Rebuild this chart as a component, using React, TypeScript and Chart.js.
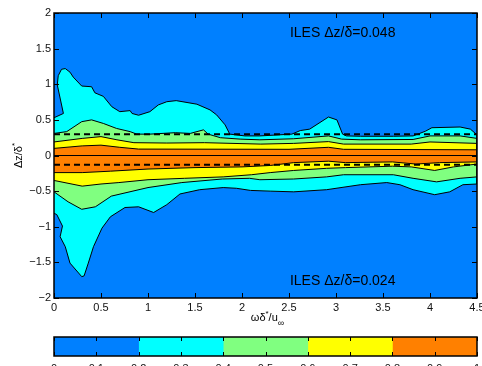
import React, { useEffect, useRef } from 'react';
import { Chart, registerables } from 'chart.js';

Chart.register(...registerables);

const FONT = '"Liberation Sans", Arial, Helvetica, sans-serif';

const BLUE = '#0080ff';
const CYAN = '#00ffff';
const GREEN = '#80ff80';
const YELLOW = '#ffff00';
const ORANGE = '#ff8000';

// axis ticks
const xTickValues = [0, 0.5, 1, 1.5, 2, 2.5, 3, 3.5, 4, 4.5];
const yTickValues = [-2, -1.5, -1, -0.5, 0, 0.5, 1, 1.5, 2];
const barTickValues = [0, 0.1, 0.2, 0.3, 0.4, 0.5, 0.6, 0.7, 0.8, 0.9, 1];

// colorbar levels
const levels = [0, 0.2, 0.4, 0.6, 0.8, 1.0];
const levelColors = [BLUE, CYAN, GREEN, YELLOW, ORANGE];

// contour 0.2 (upper / lower branches), [x, y]
const c02Upper: number[][] = [
  [0, 0.53], [0.1, 0.59], [0.035, 0.99], [0.045, 1.12], [0.08, 1.21], [0.12, 1.22], [0.17, 1.17],
  [0.205, 1.1], [0.295, 0.975], [0.4, 0.965], [0.435, 0.88], [0.525, 0.83], [0.615, 0.685],
  [0.7, 0.615], [0.81, 0.63], [0.83, 0.59], [0.9, 0.565], [1.02, 0.615], [1.11, 0.71], [1.2, 0.755],
  [1.3, 0.77], [1.52, 0.72], [1.66, 0.64], [1.73, 0.57], [1.82, 0.43], [1.87, 0.3], [2.03, 0.275],
  [2.19, 0.275], [2.53, 0.3], [2.62, 0.35], [2.72, 0.37], [2.92, 0.54], [3.01, 0.5], [3.07, 0.3],
  [3.11, 0.275], [3.26, 0.27], [3.61, 0.27], [3.82, 0.275], [3.95, 0.34], [4.02, 0.39], [4.32, 0.4],
  [4.43, 0.37], [4.5, 0.29],
];
const c02Lower: number[][] = [
  [0, -0.81], [0.03, -0.83], [0.09, -0.99], [0.065, -1.14], [0.12, -1.28], [0.17, -1.51],
  [0.295, -1.7], [0.32, -1.69], [0.365, -1.51], [0.42, -1.28], [0.51, -1.02], [0.6, -0.86],
  [0.755, -0.73], [0.9, -0.72], [1.06, -0.8], [1.2, -0.69], [1.34, -0.54], [1.55, -0.48],
  [1.8, -0.45], [1.94, -0.46], [2.09, -0.49], [2.3, -0.5], [2.55, -0.51], [2.9, -0.48],
  [3.26, -0.41], [3.54, -0.38], [3.68, -0.41], [3.82, -0.48], [4.05, -0.55], [4.21, -0.51],
  [4.35, -0.41], [4.5, -0.4],
];
// contour 0.4
const c04Upper: number[][] = [
  [0, 0.31], [0.135, 0.335], [0.295, 0.475], [0.4, 0.5], [0.525, 0.45], [0.665, 0.38], [0.81, 0.335],
  [0.88, 0.3], [1.02, 0.3], [1.29, 0.32], [1.45, 0.31], [1.59, 0.36], [1.64, 0.3], [1.77, 0.25],
  [1.98, 0.23], [2.19, 0.22], [2.55, 0.235], [2.92, 0.275], [3.06, 0.23], [3.26, 0.22], [3.82, 0.225],
  [4.0, 0.275], [4.32, 0.275], [4.5, 0.24],
];
const c04Lower: number[][] = [
  [0, -0.51], [0.15, -0.65], [0.295, -0.755], [0.44, -0.72], [0.61, -0.57], [1.0, -0.45],
  [1.36, -0.38], [1.79, -0.33], [2.08, -0.32], [2.19, -0.34], [2.55, -0.33], [2.9, -0.3],
  [3.08, -0.27], [3.61, -0.27], [3.82, -0.32], [4.07, -0.37], [4.32, -0.32], [4.5, -0.3],
];
// contour 0.6
const c06Upper: number[][] = [
  [0, 0.19], [0.3, 0.24], [0.5, 0.265], [0.67, 0.22], [0.85, 0.18], [1.2, 0.175], [1.6, 0.18],
  [2.2, 0.16], [2.55, 0.17], [2.92, 0.195], [3.08, 0.16], [3.8, 0.16], [4.0, 0.19], [4.5, 0.17],
];
const c06Lower: number[][] = [
  [0, -0.35], [0.3, -0.43], [0.5, -0.4], [0.69, -0.38], [1.0, -0.34], [1.39, -0.32], [1.8, -0.3],
  [2.1, -0.27], [2.3, -0.24], [2.55, -0.21], [2.9, -0.18], [3.1, -0.17], [3.6, -0.15], [3.8, -0.16],
  [4.05, -0.21], [4.25, -0.16], [4.5, -0.12],
];
// contour 0.8
const c08Upper: number[][] = [
  [0, 0.1], [0.3, 0.135], [0.5, 0.145], [0.7, 0.115], [0.9, 0.09], [2.5, 0.087], [2.92, 0.115],
  [3.08, 0.087], [4.5, 0.08],
];
const c08Lower: number[][] = [
  [0, -0.24], [0.3, -0.24], [0.6, -0.22], [1.0, -0.19], [1.5, -0.17], [2.0, -0.16], [2.3, -0.14],
  [2.55, -0.1], [2.92, -0.08], [3.1, -0.1], [3.6, -0.09], [3.85, -0.12], [4.1, -0.1], [4.5, -0.09],
];

const dashedLevels = [0.3, -0.13];
const zeroLevel = 0;
const xRange = [0, 4.5];

const annotations = [
  { text: 'ILES \u0394z/\u03b4=0.048', x: 2.51, y: 1.66 },
  { text: 'ILES \u0394z/\u03b4=0.024', x: 2.51, y: -1.82 },
];

const toPts = (a: number[][]) => a.map(([x, y]) => ({ x, y }));
const polygon = (upper: number[][], lower: number[][]) => [
  ...toPts(upper),
  ...toPts(lower.slice().reverse()),
];

const frameTicks = {
  id: 'frameTicks',
  afterDatasetsDraw(chart: any) {
    const { ctx, chartArea: a, scales } = chart;
    const len = chart.options.plugins.frameTicks?.len ?? 5;
    ctx.save();
    ctx.strokeStyle = '#000';
    ctx.lineWidth = 1;
    ctx.beginPath();
    const xs = scales.x;
    xs.ticks.forEach((t: any) => {
      const p = Math.round(xs.getPixelForValue(t.value)) + 0.5;
      ctx.moveTo(p, a.bottom);
      ctx.lineTo(p, a.bottom - len);
      ctx.moveTo(p, a.top);
      ctx.lineTo(p, a.top + len);
    });
    const ys = scales.y;
    if (ys && ys.options.display !== false) {
      ys.ticks.forEach((t: any) => {
        const p = Math.round(ys.getPixelForValue(t.value)) + 0.5;
        ctx.moveTo(a.left, p);
        ctx.lineTo(a.left + len, p);
        ctx.moveTo(a.right, p);
        ctx.lineTo(a.right - len, p);
      });
    }
    ctx.stroke();
    ctx.lineWidth = 1.5;
    ctx.strokeRect(a.left, a.top, a.right - a.left, a.bottom - a.top);
    ctx.restore();
  },
};

const areaBg = {
  id: 'areaBg',
  beforeDatasetsDraw(chart: any) {
    const { ctx, chartArea: a } = chart;
    ctx.save();
    ctx.fillStyle = BLUE;
    ctx.fillRect(a.left, a.top, a.right - a.left, a.bottom - a.top);
    ctx.restore();
  },
};

const labelsPlugin = {
  id: 'labelsPlugin',
  afterDraw(chart: any) {
    const { ctx, scales } = chart;
    const xs = scales.x;
    const ys = scales.y;
    ctx.save();
    ctx.fillStyle = '#000';
    // annotations
    ctx.font = `14px ${FONT}`;
    ctx.textAlign = 'left';
    ctx.textBaseline = 'alphabetic';
    annotations.forEach((an) => {
      ctx.fillText(an.text, xs.getPixelForValue(an.x), ys.getPixelForValue(an.y));
    });
    // x title: ωδ*/u∞
    const parts = [
      { t: '\u03c9\u03b4', s: 11, dy: 0 },
      { t: '*', s: 8, dy: -5 },
      { t: '/u', s: 11, dy: 0 },
      { t: '\u221e', s: 9, dy: 5 },
    ];
    let total = 0;
    parts.forEach((p) => {
      ctx.font = `${p.s}px ${FONT}`;
      total += ctx.measureText(p.t).width;
    });
    let cx = (xs.left + xs.right) / 2 + 2 - total / 2;
    const base = 321;
    parts.forEach((p) => {
      ctx.font = `${p.s}px ${FONT}`;
      ctx.fillText(p.t, cx, base + p.dy);
      cx += ctx.measureText(p.t).width;
    });
    // y title: Δz/δ*
    ctx.translate(19, (ys.top + ys.bottom) / 2);
    ctx.rotate(-Math.PI / 2);
    ctx.textBaseline = 'middle';
    const yparts = [
      { t: '\u0394z/\u03b4', s: 11, dy: 0 },
      { t: '*', s: 8, dy: -4 },
    ];
    let tw = 0;
    yparts.forEach((p) => {
      ctx.font = `${p.s}px ${FONT}`;
      tw += ctx.measureText(p.t).width;
    });
    let cy = -tw / 2;
    yparts.forEach((p) => {
      ctx.font = `${p.s}px ${FONT}`;
      ctx.fillText(p.t, cy, p.dy);
      cy += ctx.measureText(p.t).width;
    });
    ctx.restore();
  },
};

const fmt = (v: number) => {
  const r = Math.round(v * 10) / 10;
  return r < 0 ? '\u2212' + String(Math.abs(r)) : String(r);
};

export default function App() {
  const mainRef = useRef<HTMLCanvasElement>(null);
  const barRef = useRef<HTMLCanvasElement>(null);

  useEffect(() => {
    const regionDs = (upper: number[][], lower: number[][], color: string, order: number) => ({
      data: polygon(upper, lower),
      backgroundColor: color,
      borderColor: '#000',
      borderWidth: 1,
      fill: 'shape',
      pointRadius: 0,
      tension: 0,
      order,
    });
    const lineDs = (y: number, dash: number[], width: number) => ({
      data: xRange.map((x) => ({ x, y })),
      borderColor: '#000',
      borderWidth: width,
      borderDash: dash,
      fill: false,
      pointRadius: 0,
      order: 0,
    });

    const main = new Chart(mainRef.current as HTMLCanvasElement, {
      type: 'line',
      data: {
        datasets: [
          regionDs(c02Upper, c02Lower, CYAN, 4),
          regionDs(c04Upper, c04Lower, GREEN, 3),
          regionDs(c06Upper, c06Lower, YELLOW, 2),
          regionDs(c08Upper, c08Lower, ORANGE, 1),
          lineDs(zeroLevel, [], 1.2),
          ...dashedLevels.map((v) => lineDs(v, [6, 4], 2)),
        ] as any,
      },
      options: {
        animation: false,
        responsive: false,
        devicePixelRatio: 1,
        events: [],
        layout: { padding: { left: 0, right: 23, top: 13, bottom: 0 } },
        plugins: {
          legend: { display: false },
          tooltip: { enabled: false },
          frameTicks: { len: 5 },
        } as any,
        scales: {
          x: {
            type: 'linear',
            min: 0,
            max: 4.5,
            afterBuildTicks: (s: any) => {
              s.ticks = xTickValues.map((value) => ({ value }));
            },
            afterFit: (s: any) => {
              s.height = 32;
            },
            grid: { display: false, drawTicks: false },
            border: { display: false },
            ticks: {
              padding: 3,
              maxRotation: 0,
              autoSkip: false,
              color: '#111',
              font: { family: FONT, size: 11 },
              callback: (v: any) => fmt(Number(v)),
            },
          },
          y: {
            type: 'linear',
            min: -2,
            max: 2,
            afterBuildTicks: (s: any) => {
              s.ticks = yTickValues.map((value) => ({ value }));
            },
            afterFit: (s: any) => {
              s.width = 54;
            },
            grid: { display: false, drawTicks: false },
            border: { display: false },
            ticks: {
              padding: 3,
              autoSkip: false,
              color: '#111',
              font: { family: FONT, size: 11 },
              callback: (v: any) => fmt(Number(v)),
            },
          },
        },
      },
      plugins: [areaBg, frameTicks, labelsPlugin],
    });

    const bar = new Chart(barRef.current as HTMLCanvasElement, {
      type: 'bar',
      data: {
        labels: [''],
        datasets: levelColors.map((c, i) => ({
          data: [levels[i + 1] - levels[i]],
          backgroundColor: c,
          borderWidth: 0,
          barPercentage: 1,
          categoryPercentage: 1,
        })),
      },
      options: {
        indexAxis: 'y',
        animation: false,
        responsive: false,
        devicePixelRatio: 1,
        events: [],
        layout: { padding: { left: 54, right: 23, top: 7, bottom: 0 } },
        plugins: {
          legend: { display: false },
          tooltip: { enabled: false },
          frameTicks: { len: 4 },
        } as any,
        scales: {
          x: {
            type: 'linear',
            stacked: true,
            min: 0,
            max: 1,
            afterBuildTicks: (s: any) => {
              s.ticks = barTickValues.map((value) => ({ value }));
            },
            afterFit: (s: any) => {
              s.height = 24;
            },
            grid: { display: false, drawTicks: false },
            border: { display: false },
            ticks: {
              padding: 6,
              maxRotation: 0,
              autoSkip: false,
              color: '#111',
              font: { family: FONT, size: 11 },
              callback: (v: any) => fmt(Number(v)),
            },
          },
          y: { stacked: true, display: false },
        },
      },
      plugins: [frameTicks],
    });

    return () => {
      main.destroy();
      bar.destroy();
    };
  }, []);

  return (
    <div
      style={{
        position: 'absolute',
        left: 0,
        top: 0,
        width: 482,
        height: 366,
        overflow: 'hidden',
        background: '#fff',
      }}
    >
      <canvas ref={mainRef} width={500} height={330} style={{ position: 'absolute', left: 0, top: 0 }} />
      <canvas ref={barRef} width={500} height={50} style={{ position: 'absolute', left: 0, top: 330 }} />
    </div>
  );
}
